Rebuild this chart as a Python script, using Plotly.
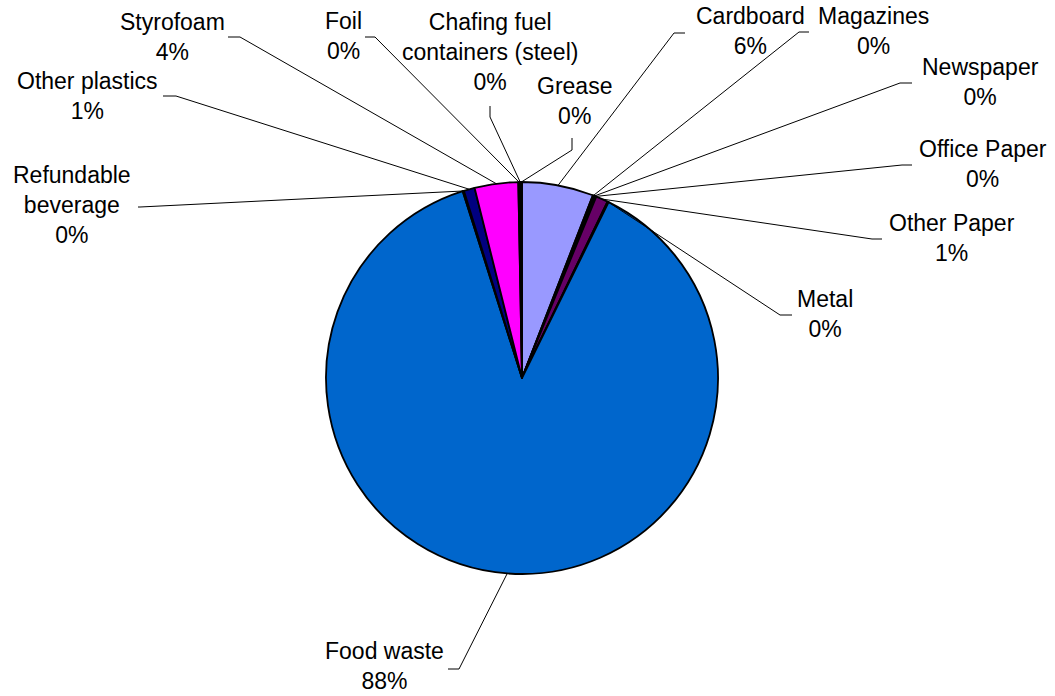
import math
import plotly.graph_objects as go

# Waste composition, slices listed clockwise from 12 o'clock
categories = [
    "Cardboard", "Magazines", "Newspaper", "Office Paper", "Other Paper", "Metal",
    "Food waste", "Refundable beverage", "Other plastics", "Styrofoam", "Foil",
    "Chafing fuel containers (steel)", "Grease",
]
shares = [5.9, 0.1, 0.1, 0.1, 1.0, 0.1, 88.0, 0.1, 0.9, 3.6, 0.1, 0.1, 0.1]

# Display text for each category (line breaks where the label wraps)
display_names = [
    "Cardboard", "Magazines", "Newspaper", "Office Paper", "Other Paper", "Metal",
    "Food waste", "Refundable<br>beverage", "Other plastics", "Styrofoam", "Foil",
    "Chafing fuel<br>containers (steel)", "Grease",
]

colors = [
    "#9999FF", "#993366", "#FFFFCC", "#CCFFFF", "#660066", "#FF8080",
    "#0066CC", "#CCCCFF", "#000080", "#FF00FF", "#FFFF00", "#00FFFF", "#800080",
]

# Page geometry (pixels)
W, H = 1055, 696
CX, CY, R = 522, 378, 196

# Label block centres and leader-line elbows (pixels, y measured from top)
label_pos = [
    (750, 31), (873, 31), (980, 82), (983, 164), (952, 238), (825, 314),
    (384, 666), (72, 205), (87, 96), (172, 37), (343, 36), (490, 52), (574, 101),
]
leader_elbows = [
    ((685, 33), (674, 33)), ((809, 32), (799, 32)), ((912, 83), (900, 83)),
    ((912, 165), (902, 165)), ((882, 239), (872, 239)), ((792, 315), (780, 315)),
    ((448, 669), (459, 669)), ((138, 207), (140, 207)), ((163, 96), (176, 96)),
    ((228, 37), (240, 37)), ((365, 37), (375, 37)), ((490, 106), (490, 117)),
    ((572, 138), (572, 150)),
]

FONT = "Liberation Sans, Arial, sans-serif"


def px(x):
    return x / W


def py(y):
    return 1 - y / H


fig = go.Figure(
    go.Pie(
        labels=categories,
        values=shares,
        sort=False,
        direction="clockwise",
        rotation=0,
        marker=dict(colors=colors, line=dict(color="black", width=1.8)),
        textinfo="none",
        hoverinfo="label+percent",
        showlegend=False,
        domain=dict(x=[px(CX - R), px(CX + R)], y=[py(CY + R), py(CY - R)]),
    )
)

total = sum(shares)
cum = 0.0
shapes = []
annotations = []
for name, v, (lx, ly), (p_out, p_in) in zip(display_names, shares, label_pos, leader_elbows):
    theta = 2 * math.pi * (cum + v / 2) / total
    cum += v
    ex = CX + R * math.sin(theta)
    ey = CY - R * math.cos(theta)
    path = (
        f"M {px(p_out[0])} {py(p_out[1])} "
        f"L {px(p_in[0])} {py(p_in[1])} "
        f"L {px(ex)} {py(ey)}"
    )
    shapes.append(dict(type="path", xref="paper", yref="paper", path=path,
                       line=dict(color="black", width=1)))
    pct = round(v / total * 100)
    annotations.append(dict(
        x=px(lx), y=py(ly), xref="paper", yref="paper",
        text=f"{name}<br>{pct}%", showarrow=False,
        xanchor="center", yanchor="middle", align="center",
        font=dict(family=FONT, size=23, color="black"),
    ))

fig.update_layout(
    width=W, height=H,
    margin=dict(l=0, r=0, t=0, b=0),
    paper_bgcolor="white", plot_bgcolor="white",
    shapes=shapes, annotations=annotations,
)

fig.write_html("out.html")
